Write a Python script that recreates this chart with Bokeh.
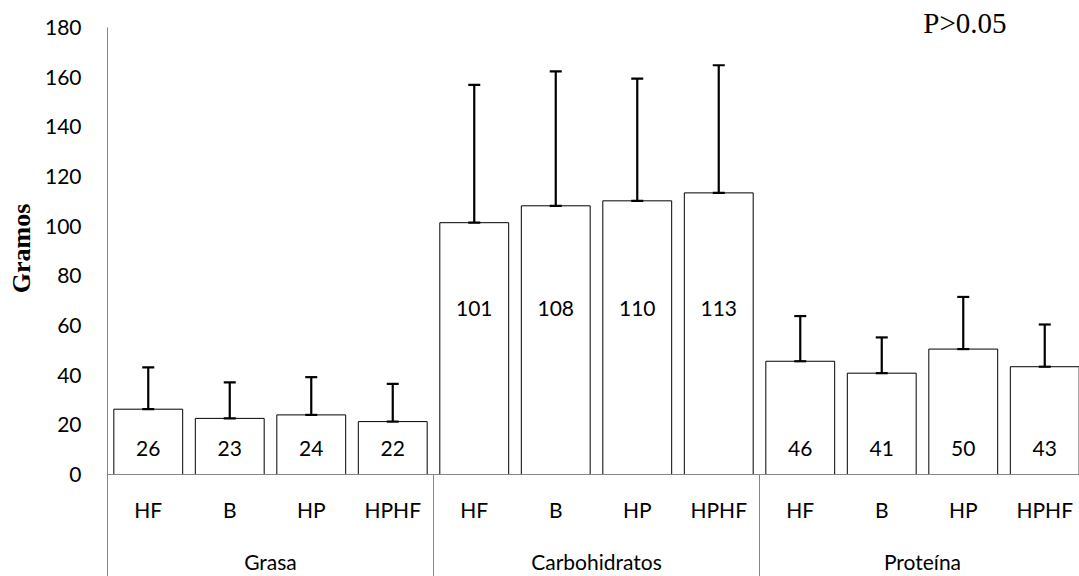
from bokeh.plotting import figure
from bokeh.models import Range1d, FixedTicker, LinearAxis, ColumnDataSource
from bokeh.core.properties import value
from bokeh.embed import file_html
from bokeh.resources import INLINE

# ---------------- data ----------------
groups = ["Grasa", "Carbohidratos", "Proteína"]
diets = ["HF", "B", "HP", "HPHF"]

grasa = [26.3, 22.6, 24.0, 21.3]
grasa_upper = [43.1, 37.1, 39.2, 36.5]
carbohidratos = [101.4, 108.2, 110.2, 113.4]
carbohidratos_upper = [156.9, 162.3, 159.4, 164.8]
proteina = [45.6, 40.8, 50.5, 43.4]
proteina_upper = [63.8, 55.2, 71.5, 60.4]

bar_labels = ["26", "23", "24", "22", "101", "108", "110", "113", "46", "41", "50", "43"]
y_ticks = [0, 20, 40, 60, 80, 100, 120, 140, 160, 180]
y_title = "Gramos"
note = "P>0.05"

# ---------------- layout / style ----------------
FONT = "Lato"
SERIF = "Liberation Serif"
AXIS_GRAY = "#868686"
W, H = 1079, 576
LEFT = 107                    # frame left edge (px)
ZERO_PX = 474                 # pixel row of y = 0
PX_PER_UNIT = 447 / 180       # vertical scale
SLOT_PX = 81.5                # width of one category slot
y_end = ZERO_PX / PX_PER_UNIT
y_start = -(H - ZERO_PX) / PX_PER_UNIT
x_start = -0.5
x_end = x_start + (W - LEFT) / SLOT_PX

values = grasa + carbohidratos + proteina
uppers = grasa_upper + carbohidratos_upper + proteina_upper
xs, grp_of, sub = [], [], []
for gi, g in enumerate(groups):
    for di, d in enumerate(diets):
        xs.append(gi * len(diets) + di)
        grp_of.append(g)
        sub.append(d)

label_level = {"Grasa": 10.5, "Carbohidratos": 67.0, "Proteína": 10.5}
label_y = [label_level[g] for g in grp_of]
SUB_Y = -14.0
GROUP_Y = -35.0
TITLE_AT = 91                 # where the y title is centred (data units)

src = ColumnDataSource(dict(x=xs, top=values, upper=uppers, lab=bar_labels,
                            ly=label_y, sub=sub, suby=[SUB_Y] * len(xs)))

p = figure(width=W, height=H, output_backend="svg", toolbar_location=None,
           x_range=Range1d(x_start, x_end), y_range=Range1d(y_start, y_end),
           x_axis_location=None, y_axis_location="left",
           min_border_left=LEFT, min_border_right=0,
           min_border_top=0, min_border_bottom=0)
p.outline_line_color = None
p.grid.visible = False
p.background_fill_color = "white"
p.border_fill_color = "white"

ax = p.yaxis[0]
ax.ticker = FixedTicker(ticks=y_ticks)
ax.bounds = (y_start, y_ticks[-1])
ax.axis_line_color = AXIS_GRAY
ax.axis_line_width = 1
ax.major_tick_out = 0
ax.major_tick_in = 0
ax.minor_tick_out = 0
ax.minor_tick_in = 0
ax.major_label_standoff = 26
ax.major_label_text_font = FONT
ax.major_label_text_font_size = "21px"
ax.major_label_text_color = "black"

# second axis carrying only the y title, placed at the reference's height
ax2 = LinearAxis(ticker=FixedTicker(ticks=[TITLE_AT]),
                 major_label_overrides={TITLE_AT: y_title})
ax2.axis_line_color = None
ax2.major_tick_out = 0
ax2.major_tick_in = 0
ax2.minor_tick_out = 0
ax2.minor_tick_in = 0
ax2.major_label_orientation = "vertical"
ax2.major_label_standoff = 5
ax2.major_label_text_font = SERIF
ax2.major_label_text_font_style = "bold"
ax2.major_label_text_font_size = "26px"
ax2.major_label_text_color = "black"
p.add_layout(ax2, "left")

# bars
p.vbar(x="x", top="top", bottom=0, width=0.845, source=src,
       fill_color="white", line_color="black", line_width=1)

# error bars
p.segment(x0="x", x1="x", y0="top", y1="upper", source=src,
          line_color="black", line_width=2.2)
p.scatter(x="x", y="upper", source=src, marker="dash", size=12,
          line_color="black", line_width=2.2)
p.scatter(x="x", y="top", source=src, marker="dash", size=12,
          line_color="black", line_width=2.2)

# value labels
p.text(x="x", y="ly", text="lab", source=src, text_align="center",
       text_baseline="middle", text_font=value(FONT),
       text_font_size="21px", text_color="black")

# category axis (drawn below zero inside the extended frame)
p.segment(x0=[x_start], x1=[x_end + 1], y0=[0], y1=[0], line_color=AXIS_GRAY, line_width=1)
n = len(diets)
sep_x = [gi * n - 0.5 for gi in range(1, len(groups))]
p.segment(x0=sep_x, x1=sep_x, y0=[0] * len(sep_x), y1=[y_start - 5] * len(sep_x),
          line_color=AXIS_GRAY, line_width=1)
p.text(x="x", y="suby", text="sub", source=src, text_align="center",
       text_baseline="middle", text_font=value(FONT),
       text_font_size="21px", text_color="black")
gx = [gi * n + (n - 1) / 2 for gi in range(len(groups))]
p.text(x=gx, y=[GROUP_Y] * len(gx), text=groups, text_align="center",
       text_baseline="middle", text_font=value(FONT),
       text_font_size="21px", text_color="black")

# significance note
p.text(x=[10.02], y=[182.0], text=[note], text_align="center",
       text_baseline="middle", text_font=value(SERIF),
       text_font_size="29px", text_color="black")

open("out.html", "w").write(file_html(p, INLINE))
